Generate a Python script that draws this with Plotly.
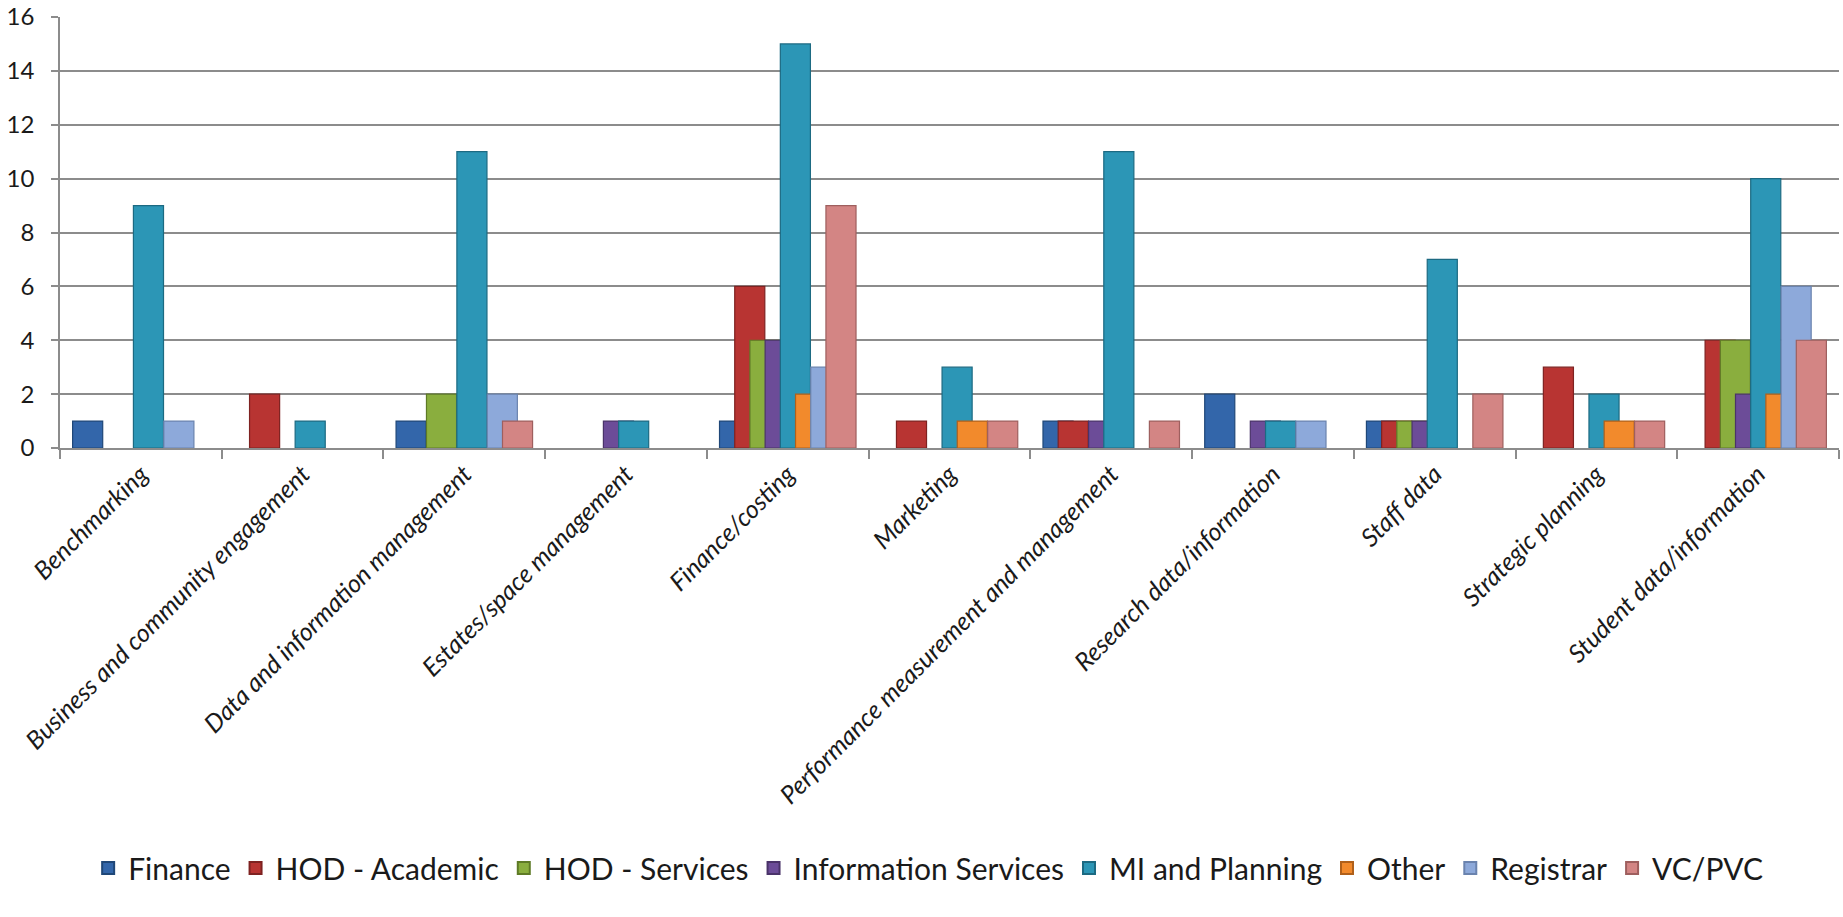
import plotly.graph_objects as go

categories = [
    "Benchmarking",
    "Business and community engagement",
    "Data and information management",
    "Estates/space management",
    "Finance/costing",
    "Marketing",
    "Performance measurement and management",
    "Research data/information",
    "Staff data",
    "Strategic planning",
    "Student data/information",
]

series_names = ["Finance", "HOD - Academic", "HOD - Services", "Information Services",
                "MI and Planning", "Other", "Registrar", "VC/PVC"]

finance =              [1, 0, 1, 0, 1, 0, 1, 2, 1, 0, 0]
hod_academic =         [0, 2, 0, 0, 6, 1, 1, 0, 1, 3, 4]
hod_services =         [0, 0, 2, 0, 4, 0, 0, 0, 1, 0, 4]
information_services = [0, 0, 0, 1, 4, 0, 1, 1, 1, 0, 2]
mi_and_planning =      [9, 1, 11, 1, 15, 3, 11, 1, 7, 2, 10]
other =                [0, 0, 0, 0, 2, 1, 0, 0, 0, 1, 2]
registrar =            [1, 0, 2, 0, 3, 0, 0, 1, 0, 0, 6]
vc_pvc =               [0, 0, 1, 0, 9, 1, 1, 0, 2, 1, 4]

series_values = [finance, hod_academic, hod_services, information_services,
                 mi_and_planning, other, registrar, vc_pvc]

y_ticks = [0, 2, 4, 6, 8, 10, 12, 14, 16]

fill_colors = ["#3366AA", "#B83432", "#8AAE3E", "#6C4C98", "#2C96B6", "#F28A2C", "#8DA9DA", "#D38584"]
edge_colors = ["#1F4778", "#7E2221", "#5E7A26", "#4A3369", "#1C6A82", "#B0601A", "#6A83AE", "#9E5F5E"]

FONT = "Lato, 'Open Sans', sans-serif"

fig = go.Figure()
slot = 0.094
bar_w = 0.186
for i, (name, vals) in enumerate(zip(series_names, series_values)):
    fig.add_trace(go.Bar(
        name=name,
        x=categories,
        y=[v if v != 0 else None for v in vals],
        offset=-3.5 * slot - bar_w / 2 + i * slot,
        width=bar_w,
        marker=dict(color=fill_colors[i], line=dict(color=edge_colors[i], width=1.2)),
    ))

fig.update_layout(
    width=1843,
    height=917,
    barmode="overlay",
    paper_bgcolor="white",
    plot_bgcolor="white",
    margin=dict(l=60, r=4, t=17, b=469, autoexpand=False),
    font=dict(family=FONT, color="#1a1a1a"),
    showlegend=True,
    legend=dict(
        orientation="h",
        x=0.488, xanchor="center",
        yref="container", y=1 - 868 / 917, yanchor="middle",
        font=dict(size=30, family=FONT, color="#1a1a1a"),
        itemsizing="constant",
        traceorder="normal",
    ),
)

fig.update_xaxes(
    type="category",
    tickangle=-45,
    tickson="boundaries",
    ticks="outside",
    ticklen=9,
    tickcolor="#8c8c8c",
    tickwidth=1.5,
    showline=True,
    linecolor="#8c8c8c",
    linewidth=1.5,
    showgrid=False,
    tickfont=dict(size=25, family=FONT, style="italic", color="#1a1a1a"),
    range=[-0.5, len(categories) - 0.5],
)

fig.update_yaxes(
    range=[0, 16],
    tickvals=y_ticks,
    ticks="outside",
    ticklen=7,
    tickcolor="#8c8c8c",
    tickwidth=1.5,
    showline=True,
    linecolor="#8c8c8c",
    linewidth=1.5,
    showgrid=True,
    gridcolor="#8c8c8c",
    gridwidth=1.5,
    zeroline=False,
    tickfont=dict(size=24, family=FONT, color="#1a1a1a"),
    ticklabelstandoff=12,
)

fig.write_html("out.html")
